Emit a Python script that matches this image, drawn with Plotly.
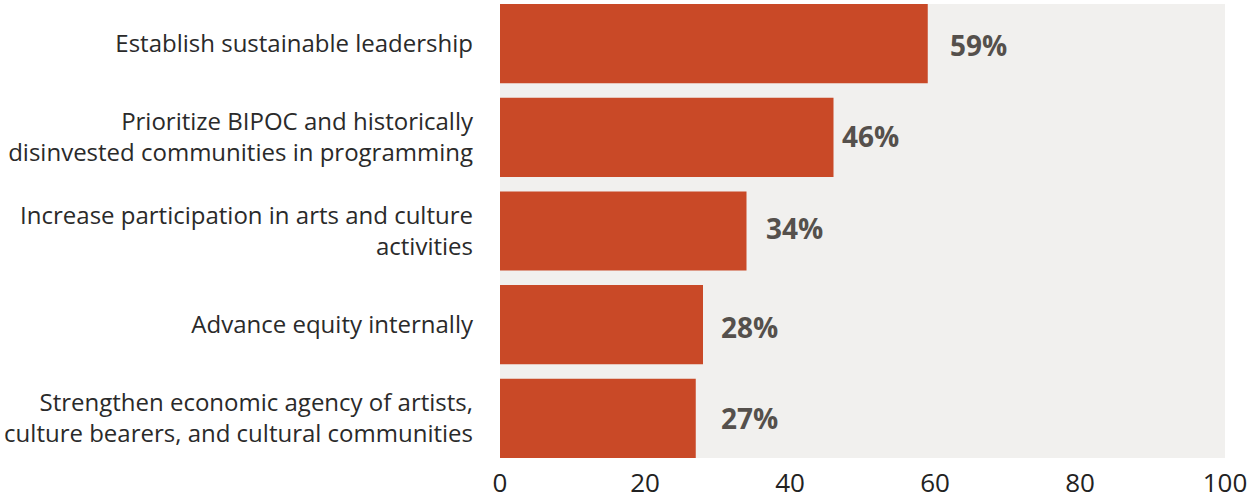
import plotly.graph_objects as go

# Survey priorities and share of respondents (%)
categories = [
    "Establish sustainable leadership",
    "Prioritize BIPOC and historically<br>disinvested communities in programming",
    "Increase participation in arts and culture<br>activities",
    "Advance equity internally",
    "Strengthen economic agency of artists,<br>culture bearers, and cultural communities",
]
values = [59, 46, 34, 28, 27]
value_labels = ["59%", "46%", "34%", "28%", "27%"]
x_ticks = [0, 20, 40, 60, 80, 100]

# label offsets from bar ends, in pixels
label_shift = [20, 6, 17, 16, 23]
label_yshift = [-1, 1, 3, -2, 0]

BAR = "#c94927"
BG = "#f1f0ee"
LABEL = "#55504c"
FONT = "Open Sans"

fig = go.Figure(
    go.Bar(
        x=values,
        y=categories,
        orientation="h",
        marker=dict(color=BAR, line=dict(width=0)),
        width=0.845,
        hoverinfo="skip",
    )
)

for v, lab, cat, dx, dy in zip(values, value_labels, categories, label_shift, label_yshift):
    fig.add_annotation(
        x=v, y=cat, text=f"<b>{lab}</b>", showarrow=False,
        xanchor="left", yanchor="middle", xshift=dx, yshift=dy,
        font=dict(family=FONT, size=28, color=LABEL),
    )

fig.update_layout(
    width=1250, height=500,
    margin=dict(l=500, r=25, t=4, b=42, autoexpand=False),
    paper_bgcolor="white",
    plot_bgcolor=BG,
    showlegend=False,
    font=dict(family=FONT, color="#2a2a2a"),
)
fig.update_xaxes(
    range=[0, 100], tickvals=x_ticks, showgrid=False, zeroline=False,
    showline=False, ticks="", ticklabelstandoff=7, automargin=False,
    tickfont=dict(family=FONT, size=26, color="#222222"),
    fixedrange=True,
)
fig.update_yaxes(
    autorange=False, range=[4.4225, -0.4225], type="category",
    categoryorder="array", categoryarray=categories,
    showgrid=False, zeroline=False, showline=False, ticks="",
    ticklabelstandoff=26, automargin=False,
    tickfont=dict(family=FONT, size=24, color="#2a2a2a"),
    fixedrange=True,
)

fig.write_html("out.html", config={"displayModeBar": False})
